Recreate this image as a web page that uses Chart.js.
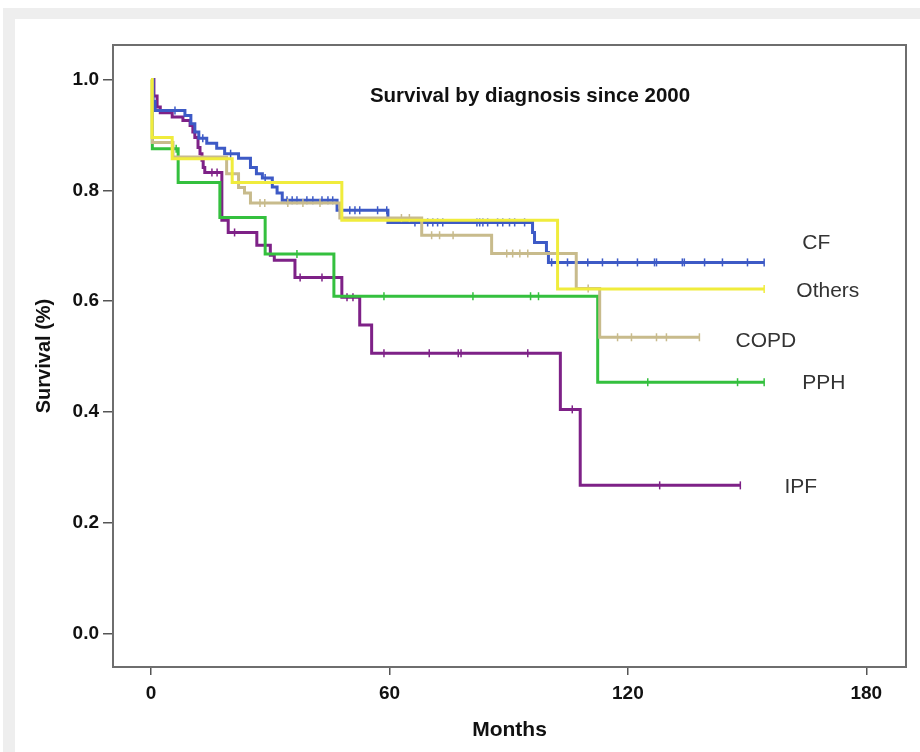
<!DOCTYPE html>
<html lang="en">
<head>
  <meta charset="UTF-8">
  <title>Survival by diagnosis since 2000</title>
  <script src="https://cdn.jsdelivr.net/npm/chart.js"></script>
  <style>
    body {
      margin: 0;
      width: 920px;
      height: 752px;
      background: #fff;
      overflow: hidden;
      font-family: "Liberation Sans", Arial, sans-serif;
    }
    .outer {
      position: absolute;
      left: 3px; top: 8px;
      width: 917px; height: 744px;
      background: #eeeeee;
    }
    .panel {
      position: absolute;
      left: 15px; top: 19px;
      width: 905px; height: 733px;
      background: #fff;
    }
    #wrap {
      position: absolute;
      left: 0; top: 0;
      width: 920px; height: 752px;
    }
  </style>
</head>
<body>
  <div class="outer"></div>
  <div class="panel"></div>
  <div id="wrap"><canvas id="km"></canvas></div>

  <script>
    // Kaplan-Meier steps (months, survival)
    const cfTimes     = [0, 0.5, 1, 8.5, 10, 11, 12, 14, 16.5, 18.5, 22, 25, 26.5, 28, 30.5, 31.7, 33, 46.8, 59.6, 96, 96.5, 99.5, 100, 154.3];
    const cfSurv      = [1.0, 0.96, 0.944, 0.935, 0.92, 0.905, 0.894, 0.885, 0.876, 0.866, 0.858, 0.841, 0.830, 0.822, 0.806, 0.795, 0.782, 0.764, 0.742, 0.724, 0.706, 0.688, 0.670, 0.670];
    const cfCensored  = [6, 13, 20, 28.7, 34.2, 35.5, 36.7, 39.2, 40.7, 43, 44.5, 45.7, 50, 51.3, 52.5, 57, 59.3, 66.4, 69.6, 70.9, 72.1, 73.4, 82, 82.7, 83.5, 84.7, 87.2, 88.5, 90.2, 91.5, 94, 100.8, 104.8, 109.9, 113.6, 117.4, 122.4, 126.7, 127.2, 133.7, 134.2, 139.3, 143.8, 150.1, 154.3];

    const othTimes    = [0, 0.2, 5.3, 20.4, 48, 102.3, 154.3];
    const othSurv     = [1.0, 0.895, 0.857, 0.814, 0.746, 0.622, 0.622];
    const othCensored = [154.3];

    const copdTimes    = [0, 0.3, 5.5, 19, 22, 23.5, 25, 47.5, 68.1, 85.7, 107, 112.9, 138];
    const copdSurv     = [1.0, 0.886, 0.86, 0.83, 0.805, 0.795, 0.777, 0.75, 0.719, 0.686, 0.623, 0.535, 0.535];
    const copdCensored = [27.4, 28.6, 34.4, 38.2, 42.5, 63, 65, 70.6, 72.6, 76, 89.5, 91, 92.8, 94.8, 110, 117.4, 120.9, 127.2, 129.7, 138];

    const pphTimes    = [0, 0.3, 6.8, 17.3, 28.7, 46, 112.4, 154.3];
    const pphSurv     = [1.0, 0.875, 0.814, 0.751, 0.685, 0.609, 0.454, 0.454];
    const pphCensored = [6.3, 36.7, 58.6, 81, 95.5, 97.5, 125, 147.6, 154.3];

    const ipfTimes    = [0, 0.7, 1.5, 2.3, 5.3, 8, 9.8, 10.5, 11, 11.8, 12.3, 12.8, 13.1, 13.5, 17.8, 19.4, 26.6, 30, 31, 36.2, 48, 52.5, 55.5, 103, 108, 148.3];
    const ipfSurv     = [1.0, 0.97, 0.95, 0.94, 0.932, 0.926, 0.917, 0.905, 0.895, 0.877, 0.866, 0.854, 0.841, 0.832, 0.746, 0.724, 0.701, 0.683, 0.674, 0.643, 0.607, 0.557, 0.506, 0.405, 0.268, 0.268];
    const ipfCensored = [15.3, 16.6, 21, 37.5, 43, 49.3, 50.8, 58.6, 70, 77.3, 78, 94.8, 106, 128, 148.3];

    const xTicks = [0, 60, 120, 180];
    const yTicks = [0, 0.2, 0.4, 0.6, 0.8, 1.0];

    const FONT = '"Liberation Sans", Arial, sans-serif';

    const groups = [
      { name: 'Others', times: othTimes,  surv: othSurv,  censored: othCensored,  color: '#f0ec3c', labelAt: [162.4, 0.618] },
      { name: 'COPD',   times: copdTimes, surv: copdSurv, censored: copdCensored, color: '#c8bb8c', labelAt: [147.1, 0.528] },
      { name: 'PPH',    times: pphTimes,  surv: pphSurv,  censored: pphCensored,  color: '#34c03e', labelAt: [163.9, 0.452] },
      { name: 'CF',     times: cfTimes,   surv: cfSurv,   censored: cfCensored,   color: '#3d5ac6', labelAt: [163.9, 0.704] },
      { name: 'IPF',    times: ipfTimes,  surv: ipfSurv,  censored: ipfCensored,  color: '#7e2187', labelAt: [159.4, 0.265] }
    ];

    // survival value in force at time t
    function survAt(times, surv, t) {
      let v = surv[0];
      for (let i = 0; i < times.length; i++) {
        if (times[i] <= t) v = surv[i];
      }
      return v;
    }

    const datasets = [];
    groups.forEach(g => {
      datasets.push({
        label: g.name,
        data: g.times.map((t, i) => ({ x: t, y: g.surv[i] })),
        borderColor: g.color,
        borderWidth: 3,
        stepped: 'before',
        pointRadius: 0,
        fill: false
      });
      datasets.push({
        label: g.name + ' censored',
        data: g.censored.map(t => ({ x: t, y: survAt(g.times, g.surv, t) })),
        showLine: false,
        pointStyle: 'line',
        rotation: 90,
        pointRadius: 4,
        borderWidth: 1.5,
        borderColor: g.color,
        backgroundColor: g.color
      });
    });

    const textPlugin = {
      id: 'texts',
      afterDraw(chart) {
        const { ctx, chartArea, scales } = chart;
        ctx.save();
        // frame on the top and right
        ctx.strokeStyle = '#6e6e6e';
        ctx.lineWidth = 2;
        ctx.strokeRect(chartArea.left, chartArea.top, chartArea.right - chartArea.left, chartArea.bottom - chartArea.top);

        ctx.fillStyle = '#111';
        ctx.font = 'bold 20.5px ' + FONT;
        ctx.textAlign = 'center';
        ctx.textBaseline = 'middle';
        ctx.fillText('Survival by diagnosis since 2000', 530, 96);

        ctx.fillStyle = '#333';
        ctx.font = '21px ' + FONT;
        ctx.textAlign = 'left';
        groups.forEach(g => {
          ctx.fillText(g.name, scales.x.getPixelForValue(g.labelAt[0]), scales.y.getPixelForValue(g.labelAt[1]));
        });
        ctx.restore();
      }
    };

    new Chart(document.getElementById('km'), {
      type: 'line',
      data: { datasets },
      options: {
        responsive: true,
        maintainAspectRatio: false,
        animation: false,
        layout: { padding: { left: 0, top: 45, right: 14, bottom: 0 } },
        plugins: {
          legend: { display: false },
          tooltip: { enabled: false }
        },
        scales: {
          x: {
            type: 'linear',
            min: -9.6,
            max: 190,
            afterBuildTicks: s => { s.ticks = xTicks.map(v => ({ value: v })); },
            afterFit: s => { s.height = 85; },
            grid: { drawOnChartArea: false, drawTicks: true, tickLength: 8, color: '#555', lineWidth: 1.5 },
            border: { display: true, color: '#6e6e6e', width: 2 },
            ticks: {
              padding: 7,
              color: '#111',
              font: { family: FONT, size: 19, weight: 'bold' }
            },
            title: {
              display: true,
              text: 'Months',
              color: '#111',
              padding: { top: 0, bottom: 9 },
              font: { family: FONT, size: 21, weight: 'bold' }
            }
          },
          y: {
            type: 'linear',
            min: -0.0595,
            max: 1.062,
            afterBuildTicks: s => { s.ticks = yTicks.map(v => ({ value: v })); },
            afterFit: s => { s.width = 113; },
            grid: { drawOnChartArea: false, drawTicks: true, tickLength: 10, color: '#555', lineWidth: 1.5 },
            border: { display: true, color: '#6e6e6e', width: 2 },
            ticks: {
              padding: 4,
              color: '#111',
              callback: v => v.toFixed(1),
              font: { family: FONT, size: 19, weight: 'bold' }
            },
            title: {
              display: true,
              text: 'Survival (%)',
              color: '#111',
              padding: { top: 32, bottom: 0 },
              font: { family: FONT, size: 20, weight: 'bold' }
            }
          }
        }
      },
      plugins: [textPlugin]
    });
  </script>
</body>
</html>
